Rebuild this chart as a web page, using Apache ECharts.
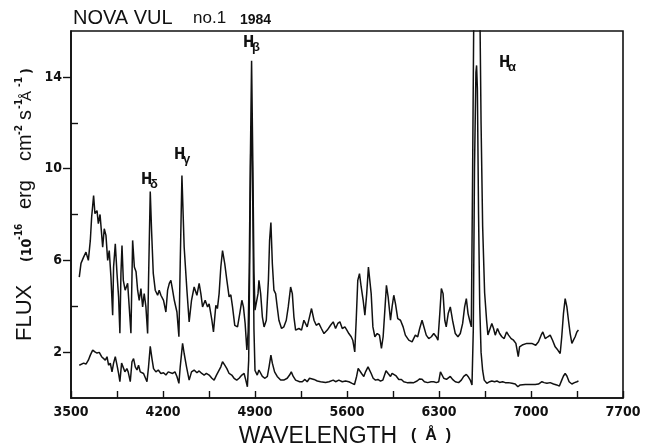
<!DOCTYPE html>
<html>
<head>
<meta charset="utf-8">
<script src="https://cdn.jsdelivr.net/npm/echarts@6/dist/echarts.min.js"></script>
<style>
  html, body { margin: 0; padding: 0; background: #fff; }
  #e-main { width: 647px; height: 447px; }
</style>
</head>
<body>
<div id="e-main"></div>
<script>
// wavelengths (A) and flux (1e-16 erg cm-2 s-1 A-1)
var upperWave = [3563, 3576, 3596, 3614, 3632, 3647, 3657, 3672, 3682, 3698, 3708, 3721, 3741, 3753, 3766, 3779, 3791, 3804, 3817, 3824,
    3837, 3850, 3862, 3872, 3880, 3888, 3898, 3912, 3931, 3943, 3956, 3969, 3982, 3995, 4007, 4019, 4032, 4045, 4057, 4070,
    4083, 4090, 4103, 4113, 4126, 4141, 4159, 4171, 4184, 4204, 4222, 4235, 4248, 4260, 4273, 4286, 4306, 4321, 4331, 4344,
    4361, 4382, 4399, 4417, 4437, 4458, 4475, 4488, 4501, 4521, 4539, 4551, 4572, 4584, 4602, 4614, 4627, 4640, 4653, 4670,
    4686, 4703, 4716, 4729, 4746, 4767, 4784, 4800, 4812, 4825, 4838, 4848, 4856, 4864, 4874, 4884, 4892, 4900, 4910, 4923,
    4930, 4943, 4956, 4969, 4986, 5002, 5011, 5021, 5032, 5044, 5057, 5069, 5082, 5102, 5119, 5138, 5153, 5171, 5184, 5196,
    5209, 5234, 5254, 5272, 5285, 5297, 5315, 5330, 5349, 5366, 5386, 5405, 5425, 5450, 5475, 5495, 5513, 5530, 5546, 5564,
    5584, 5599, 5614, 5632, 5644, 5659, 5670, 5682, 5695, 5708, 5723, 5736, 5750, 5763, 5775, 5784, 5797, 5812, 5830, 5847,
    5862, 5875, 5888, 5900, 5913, 5931, 5943, 5956, 5969, 5986, 6007, 6027, 6044, 6070, 6095, 6120, 6138, 6153, 6171, 6184,
    6203, 6222, 6242, 6260, 6279, 6292, 6306, 6318, 6331, 6344, 6355, 6370, 6386, 6403, 6424, 6444, 6462, 6480, 6495, 6508,
    6521, 6533, 6546, 6556, 6565, 6588, 6611, 6620, 6632, 6647, 6662, 6672, 6682, 6702, 6715, 6728, 6745, 6761, 6778, 6796,
    6814, 6829, 6849, 6867, 6885, 6895, 6903, 6913, 6933, 6968, 7006, 7036, 7057, 7077, 7090, 7108, 7128, 7146, 7164, 7184,
    7204, 7222, 7234, 7247, 7260, 7273, 7285, 7298, 7311, 7323, 7336, 7349, 7361];
var upperFlux = [5.27, 5.87, 6.14, 6.36, 6.0, 6.87, 7.88, 8.83, 8.04, 8.17, 7.6, 8.0, 6.58, 7.38, 7.09, 6.0, 6.43, 5.27, 3.61, 5.71,
    6.72, 5.43, 4.41, 2.82, 5.43, 6.65, 5.13, 4.7, 5.0, 3.97, 2.82, 6.87, 5.71, 5.5, 4.7, 4.26, 4.77, 3.97, 4.55, 3.97,
    2.81, 5.13, 9.0, 7.3, 5.43, 4.7, 4.48, 4.7, 4.48, 4.26, 3.75, 4.7, 5.0, 5.13, 4.7, 4.26, 3.75, 2.67, 5.85, 9.7,
    6.58, 4.7, 3.32, 4.26, 4.84, 4.48, 5.0, 4.55, 3.97, 4.26, 3.97, 4.1, 3.39, 2.88, 4.04, 3.9, 4.55, 5.71, 6.43, 5.85,
    5.13, 4.41, 4.5, 3.97, 3.17, 3.1, 3.68, 4.26, 3.97, 3.25, 2.09, 2.9, 5.5, 10, 14.7, 10, 5.5, 3.83, 3.75, 4.55,
    5.13, 4.55, 3.54, 3.1, 3.39, 5.13, 6.87, 7.65, 5.85, 4.7, 4.55, 3.97, 3.39, 3.03, 3.1, 3.39, 3.97, 4.84, 4.55, 3.54,
    2.96, 3.03, 2.96, 3.39, 3.46, 3.1, 3.54, 3.9, 3.39, 3.17, 3.25, 3.03, 2.81, 2.96, 3.17, 3.32, 3.03, 3.25, 3.32, 3.03,
    3.1, 2.96, 2.81, 2.67, 2.52, 2.01, 3.39, 5.13, 5.42, 4.84, 4.26, 3.61, 4.55, 5.71, 5.79, 4.55, 3.1, 2.67, 2.81, 2.74,
    2.16, 2.67, 3.83, 4.91, 4.41, 3.39, 3.97, 4.48, 4.1, 3.46, 3.39, 3.1, 2.74, 2.52, 2.45, 2.74, 2.67, 3.03, 3.39, 3.32,
    2.74, 2.59, 2.67, 2.81, 2.67, 2.52, 3.68, 4.77, 4.55, 3.39, 3.1, 3.68, 3.97, 3.39, 2.81, 2.67, 2.81, 3.25, 3.97, 4.33,
    3.68, 3.39, 3.1, 10, 17, 24, 17, 12, 7.5, 4.6, 3.4, 2.75, 2.81, 3.25, 3.03, 2.74, 3.03, 2.81, 2.67, 2.59,
    2.88, 2.74, 2.59, 2.52, 2.38, 2.31, 1.8, 2.23, 2.31, 2.38, 2.38, 2.3, 2.45, 2.74, 2.88, 2.59, 2.67, 2.74, 2.52, 2.23,
    2.09, 1.94, 2.67, 3.68, 4.33, 3.97, 3.39, 2.81, 2.38, 2.52, 2.67, 2.88, 2.96];

var lowerWave = [3563, 3576, 3596, 3614, 3632, 3647, 3665, 3682, 3698, 3715, 3733, 3748, 3761, 3774, 3786, 3799, 3812, 3824, 3837, 3850,
    3862, 3872, 3885, 3898, 3910, 3925, 3935, 3951, 3964, 3976, 3989, 4002, 4014, 4027, 4040, 4052, 4065, 4078, 4090, 4103,
    4116, 4128, 4146, 4164, 4184, 4204, 4222, 4240, 4255, 4273, 4291, 4306, 4321, 4331, 4349, 4361, 4379, 4399, 4417, 4437,
    4458, 4475, 4495, 4513, 4530, 4551, 4572, 4589, 4607, 4622, 4640, 4653, 4670, 4686, 4703, 4723, 4741, 4761, 4779, 4800,
    4817, 4830, 4842, 4852, 4860, 4868, 4876, 4884, 4892, 4900, 4917, 4930, 4943, 4956, 4976, 4994, 5007, 5021, 5032, 5049,
    5069, 5095, 5119, 5145, 5163, 5176, 5191, 5209, 5240, 5260, 5280, 5297, 5315, 5330, 5349, 5374, 5399, 5437, 5463, 5495,
    5513, 5538, 5564, 5589, 5614, 5639, 5657, 5673, 5685, 5698, 5711, 5728, 5741, 5760, 5772, 5784, 5799, 5817, 5835, 5855,
    5873, 5886, 5897, 5913, 5931, 5943, 5956, 5974, 5994, 6014, 6032, 6057, 6083, 6108, 6133, 6153, 6171, 6189, 6214, 6240,
    6260, 6280, 6298, 6311, 6324, 6336, 6357, 6369, 6386, 6403, 6424, 6449, 6470, 6488, 6508, 6521, 6538, 6551, 6561, 6570,
    6581, 6586, 6592, 6601, 6610, 6620, 6632, 6644, 6664, 6685, 6702, 6723, 6741, 6761, 6784, 6804, 6829, 6855, 6880, 6900,
    6918, 6956, 6994, 7032, 7057, 7083, 7100, 7121, 7146, 7171, 7196, 7216, 7234, 7247, 7260, 7273, 7290, 7311, 7331, 7349,
    7361];
var lowerFlux = [1.43, 1.45, 1.52, 1.48, 1.65, 1.87, 2.09, 2.01, 1.96, 1.99, 1.8, 1.87, 1.65, 1.8, 1.43, 1.52, 1.14, 1.52, 1.8, 1.43,
    1.07, 0.71, 1.52, 1.59, 1.14, 1.28, 1.14, 0.71, 1.58, 1.72, 1.36, 1.22, 1.43, 1.14, 1.22, 1.07, 1.14, 0.71, 1.36, 2.25,
    1.72, 1.28, 1.14, 1.22, 1.07, 1.1, 1.0, 1.14, 1.22, 1.07, 1.14, 0.94, 0.64, 1.36, 2.38, 1.94, 1.36, 0.78, 1.14, 1.22,
    1.1, 1.18, 1.07, 1.0, 1.07, 1.0, 0.86, 0.78, 1.0, 1.07, 1.36, 1.58, 1.43, 1.28, 1.07, 1.0, 0.86, 0.78, 0.86, 1.0,
    1.07, 0.78, 0.49, 1.65, 6, 11, 12, 8, 3, 1.2, 1.0, 1.22, 1.15, 0.94, 0.86, 0.94, 1.36, 1.87, 1.52, 1.14,
    0.94, 0.78, 0.78, 0.86, 1.0, 1.14, 0.94, 0.78, 0.71, 0.71, 0.81, 0.71, 0.86, 0.94, 0.81, 0.74, 0.71, 0.68, 0.71, 0.78,
    0.71, 0.78, 0.71, 0.74, 0.71, 0.64, 0.59, 0.94, 1.29, 1.22, 1.07, 0.94, 1.14, 1.36, 1.36, 1.07, 0.86, 0.78, 0.81, 0.74,
    0.78, 1.0, 1.19, 1.07, 0.94, 1.07, 1.1, 0.96, 0.81, 0.81, 0.71, 0.67, 0.68, 0.67, 0.74, 0.83, 0.82, 0.71, 0.67, 0.71,
    0.71, 0.67, 0.71, 1.14, 1.14, 0.86, 0.81, 0.86, 0.94, 0.81, 0.71, 0.67, 0.78, 0.94, 1.03, 0.94, 0.78, 0.57, 3, 10,
    14.2, 14.5, 13.5, 8, 4, 2, 1.2, 0.78, 0.64, 0.71, 0.74, 0.71, 0.74, 0.68, 0.71, 0.67, 0.67, 0.64, 0.61, 0.49,
    0.57, 0.59, 0.59, 0.59, 0.61, 0.71, 0.67, 0.64, 0.67, 0.61, 0.57, 0.52, 0.78, 0.96, 1.07, 0.96, 0.71, 0.61, 0.67, 0.71,
    0.74];

// axis ticks and labels
var xTickValues = [3500, 3850, 4200, 4550, 4900, 5250, 5600, 5950, 6300, 6650, 7000, 7350, 7700];
var xLabelValues = [3500, 4200, 4900, 5600, 6300, 7000, 7700];
var yMajorValues = [2, 6, 10, 14];
var yMinorValues = [4, 8, 12];

// line identifications
var lineNames = ['H', 'H', 'H', 'H'];
var lineGreek = ['\u03b4', '\u03b3', '\u03b2', '\u03b1'];

var myChart = echarts.init(document.getElementById('e-main'), null, {renderer: 'canvas'});

function pairs(w, f) {
    var out = [];
    for (var i = 0; i < w.length; i++) {
        out.push([w[i], f[i]]);
    }
    return out;
}

var narrow = "'Liberation Sans Narrow', 'DejaVu Sans Condensed', 'Liberation Sans', sans-serif";
var plain = "'Liberation Sans', Arial, sans-serif";
var ink = '#111';

//谱线标注位置
var lineLabelPos = [[141, 181], [174, 156], [243, 44], [499, 64]];
var graphics = [];
for (var i = 0; i < lineNames.length; i++) {
    graphics.push({
        type: 'text', left: lineLabelPos[i][0], top: lineLabelPos[i][1] - 8,
        style: {text: lineNames[i], font: 'bold 15px ' + narrow, fill: ink}
    });
    graphics.push({
        type: 'text', left: lineLabelPos[i][0] + 9, top: lineLabelPos[i][1] - 3,
        style: {text: lineGreek[i], font: 'bold 13px ' + plain, fill: ink}
    });
}

// title
graphics.push({type: 'text', left: 73, top: 8, style: {text: 'NOVA VUL', font: '20px ' + plain, fill: ink}});
graphics.push({type: 'text', left: 193, top: 10, style: {text: 'no.1', font: '17px ' + plain, fill: ink}});
graphics.push({type: 'text', left: 240, top: 13, style: {text: '1984', font: 'bold 14px ' + plain, fill: ink}});

// y axis title, piece by piece (rotated, reads bottom to top)
var yTitleParts = [
    ['FLUX', 341, 25, '22px ' + plain],
    ['(10', 262, 27, 'bold 14px ' + narrow],
    ['-16', 240, 19, 'bold 10px ' + narrow],
    ['erg', 209, 25.5, '20px ' + plain],
    ['cm', 161, 25.5, '20px ' + plain],
    ['-2', 135, 19, 'bold 10px ' + narrow],
    ['s', 120, 25.5, '20px ' + plain],
    ['-1', 109, 19, 'bold 10px ' + narrow],
    ['\u00c5', 101, 27, '15px ' + plain],
    ['-1', 87, 19, 'bold 10px ' + narrow],
    [')', 74, 27, 'bold 14px ' + narrow]
];
yTitleParts.forEach(function (p) {
    graphics.push({
        type: 'text', x: p[2], y: p[1], rotation: Math.PI / 2,
        style: {text: p[0], font: p[3], fill: ink, align: 'left', verticalAlign: 'middle'}
    });
});

// x axis title
graphics.push({
    type: 'text', x: 318, y: 437,
    style: {text: 'WAVELENGTH', font: '23px ' + plain, fill: ink, align: 'center', verticalAlign: 'middle'}
});
graphics.push({
    type: 'text', x: 431, y: 436,
    style: {text: '(  \u00c5  )', font: 'bold 16px ' + plain, fill: ink, align: 'center', verticalAlign: 'middle'}
});

var option = {
    backgroundColor: '#fff',
    animation: false,
    grid: {
        left: 71, right: 24, top: 31, bottom: 49,
        show: true, borderColor: ink, borderWidth: 1.6, backgroundColor: 'transparent'
    },
    xAxis: {
        type: 'value', min: 3500, max: 7700, interval: 350,
        axisLine: {show: true, lineStyle: {color: ink, width: 1.6}},
        axisTick: {show: true, inside: true, length: 7, customValues: xTickValues, lineStyle: {color: ink, width: 1.4}},
        axisLabel: {
            customValues: xLabelValues, margin: 7, color: ink, fontWeight: 'bold', fontSize: 14, fontFamily: narrow,
            formatter: function (v) { return String(v); }
        },
        splitLine: {show: false}
    },
    yAxis: [
        {
            type: 'value', min: 0, max: 16, interval: 2,
            axisLine: {show: true, lineStyle: {color: ink, width: 1.6}},
            axisTick: {show: true, inside: false, length: 8, customValues: yMajorValues, lineStyle: {color: ink, width: 1.4}},
            axisLabel: {customValues: yMajorValues, margin: 9, color: ink, fontWeight: 'bold', fontSize: 14, fontFamily: narrow},
            splitLine: {show: false}
        },
        {
            type: 'value', min: 0, max: 16, interval: 2, position: 'left',
            axisLine: {show: false},
            axisTick: {show: true, inside: true, length: 7, customValues: yMinorValues, lineStyle: {color: ink, width: 1.4}},
            axisLabel: {show: false},
            splitLine: {show: false}
        }
    ],
    series: [
        {
            type: 'line', data: pairs(upperWave, upperFlux), showSymbol: false, clip: true,
            lineStyle: {color: ink, width: 1.5}
        },
        {
            type: 'line', data: pairs(lowerWave, lowerFlux), showSymbol: false, clip: true,
            lineStyle: {color: ink, width: 1.5}
        }
    ],
    graphic: graphics
};

//使用制定的配置项和数据显示图表
myChart.setOption(option, true);
</script>
</body>
</html>
